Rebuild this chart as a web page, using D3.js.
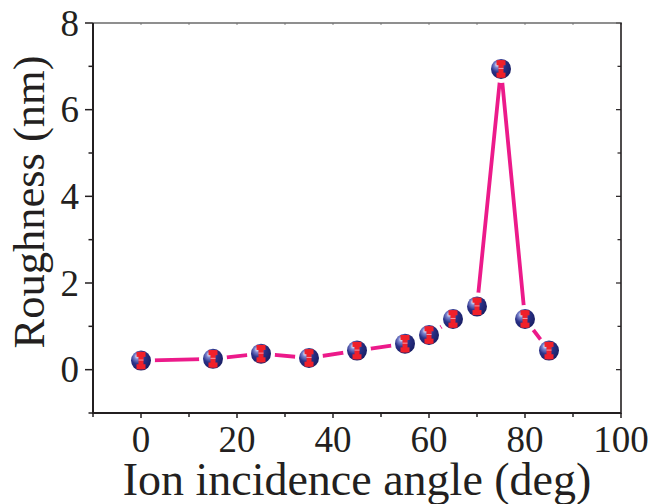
<!DOCTYPE html>
<html><head><meta charset="utf-8">
<script src="https://cdn.jsdelivr.net/npm/d3@7"></script>
<style>html,body{margin:0;padding:0;background:#fff;}svg{display:block;}</style>
</head><body>
<script>
const angles = [0, 15, 25, 35, 45, 55, 60, 65, 70, 75, 80, 85];
const roughness = [0.21, 0.25, 0.37, 0.27, 0.44, 0.60, 0.80, 1.17, 1.46, 6.94, 1.17, 0.44];
const errors = [0.2, 0.2, 0.2, 0.2, 0.2, 0.2, 0.2, 0.2, 0.2, 0.2, 0.2, 0.2];
const xTicks = [0, 20, 40, 60, 80, 100];
const yTicks = [0, 2, 4, 6, 8];
const xTitle = "Ion incidence angle (deg)";
const yTitle = "Roughness (nm)";

const W = 653, H = 504;
const m = {l: 93, r: 32, t: 23, b: 91};
const svg = d3.select("body").append("svg").attr("width", W).attr("height", H);
const x = d3.scaleLinear().domain([-10, 100]).range([m.l, W - m.r]);
const y = d3.scaleLinear().domain([-1, 8]).range([H - m.b, m.t]);
const font = "'Liberation Serif','Times New Roman',serif";
const axisCol = "#231f20";

const defs = svg.append("defs");
const grad = defs.append("radialGradient").attr("id", "ball")
  .attr("cx", "38%").attr("cy", "35%").attr("r", "65%").attr("fx", "30%").attr("fy", "28%");
grad.append("stop").attr("offset", "0%").attr("stop-color", "#ffffff");
grad.append("stop").attr("offset", "22%").attr("stop-color", "#7d86d0");
grad.append("stop").attr("offset", "55%").attr("stop-color", "#2a3188");
grad.append("stop").attr("offset", "100%").attr("stop-color", "#1a1f66");

const pts = angles.map((a, i) => ({a, v: roughness[i], e: errors[i]}));

// mask for line gaps around symbols
const mask = defs.append("mask").attr("id", "gap").attr("maskUnits", "userSpaceOnUse")
  .attr("x", 0).attr("y", 0).attr("width", W).attr("height", H);
mask.append("rect").attr("width", W).attr("height", H).attr("fill", "#fff");
mask.selectAll("circle").data(pts).join("circle")
  .attr("cx", d => x(d.a)).attr("cy", d => y(d.v)).attr("r", 14).attr("fill", "#000");

// axes
const xMinor = d3.range(-10, 101, 10);
const yMinor = d3.range(-1, 9, 1);
const g = svg.append("g");
g.selectAll(".bt").data(xMinor).join("line")
  .attr("x1", d => x(d)).attr("x2", d => x(d))
  .attr("y1", y(-1)).attr("y2", d => y(-1) + (d % 20 === 0 ? 5 : 4))
  .attr("stroke", axisCol).attr("stroke-width", 1.5);
g.selectAll(".tt").data(xMinor).join("line")
  .attr("x1", d => x(d)).attr("x2", d => x(d))
  .attr("y1", y(8)).attr("y2", y(8) + 2)
  .attr("stroke", "#888").attr("stroke-width", 1);
g.selectAll(".lt").data(yMinor).join("line")
  .attr("x1", x(-10)).attr("x2", d => x(-10) - (d % 2 === 0 ? 8 : 4.5))
  .attr("y1", d => y(d)).attr("y2", d => y(d))
  .attr("stroke", axisCol).attr("stroke-width", 1.5);
g.selectAll(".rt").data(yMinor).join("line")
  .attr("x1", x(100)).attr("x2", d => x(100) - (d % 2 === 0 ? 5 : 3.5))
  .attr("y1", d => y(d)).attr("y2", d => y(d))
  .attr("stroke", axisCol).attr("stroke-width", 1.2);
g.append("line").attr("x1", x(-10) - 1).attr("x2", x(100) + 1).attr("y1", y(8)).attr("y2", y(8))
  .attr("stroke", "#6a6a6a").attr("stroke-width", 1.6);
g.append("line").attr("x1", x(-10)).attr("x2", x(-10)).attr("y1", y(8)).attr("y2", y(-1) + 1)
  .attr("stroke", axisCol).attr("stroke-width", 2);
g.append("line").attr("x1", x(100)).attr("x2", x(100)).attr("y1", y(8)).attr("y2", y(-1) + 1)
  .attr("stroke", axisCol).attr("stroke-width", 1.6);
g.append("line").attr("x1", x(-10)).attr("x2", x(100)).attr("y1", y(-1)).attr("y2", y(-1))
  .attr("stroke", axisCol).attr("stroke-width", 2);

// tick labels
svg.selectAll(".xl").data(xTicks).join("text")
  .attr("x", d => x(d)).attr("y", 452).attr("text-anchor", "middle")
  .attr("font-family", font).attr("font-size", 37).attr("fill", axisCol).text(d => d);
svg.selectAll(".yl").data(yTicks).join("text")
  .attr("x", 79).attr("y", d => y(d)).attr("dy", "0.34em").attr("text-anchor", "end")
  .attr("font-family", font).attr("font-size", 37).attr("fill", axisCol).text(d => d);

// titles
svg.append("text").attr("x", 357).attr("y", 495).attr("text-anchor", "middle")
  .attr("font-family", font).attr("font-size", 46).attr("fill", axisCol).text(xTitle);
svg.append("text").attr("transform", `translate(44,202) rotate(-90)`).attr("text-anchor", "middle")
  .attr("font-family", font).attr("font-size", 44.5).attr("fill", axisCol).text(yTitle);

// line
const line = d3.line().x(d => x(d.a)).y(d => y(d.v));
svg.append("path").datum(pts).attr("d", line).attr("fill", "none")
  .attr("stroke", "#ec1a8a").attr("stroke-width", 3.8).attr("mask", "url(#gap)");

// symbols
const sym = svg.selectAll(".pt").data(pts).join("g");
sym.append("circle").attr("cx", d => x(d.a)).attr("cy", d => y(d.v)).attr("r", 10)
  .attr("fill", "url(#ball)");
sym.append("rect").attr("x", d => x(d.a) - 2.5).attr("width", 5)
  .attr("y", d => y(d.v + d.e)).attr("height", d => y(d.v - d.e) - y(d.v + d.e))
  .attr("fill", "#f0202a");
sym.append("rect").attr("x", d => x(d.a) - 4.5).attr("width", 9)
  .attr("y", d => y(d.v + d.e)).attr("height", 5).attr("fill", "#f0202a");
sym.append("rect").attr("x", d => x(d.a) - 4.5).attr("width", 9)
  .attr("y", d => y(d.v - d.e) - 5).attr("height", 5).attr("fill", "#f0202a");
sym.append("line").attr("x1", d => x(d.a) - 2.5).attr("x2", d => x(d.a) + 2.5)
  .attr("y1", d => y(d.v) - 0.5).attr("y2", d => y(d.v) - 0.5)
  .attr("stroke", "#f5b8c8").attr("stroke-width", 0.8);
</script>
</body></html>
